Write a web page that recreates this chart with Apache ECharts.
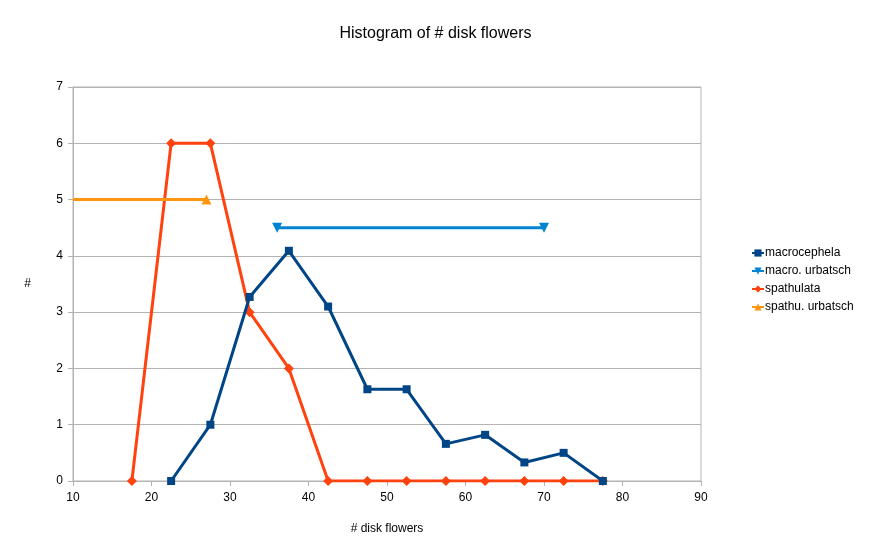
<!DOCTYPE html>
<html>
<head>
<meta charset="utf-8">
<script src="https://cdn.jsdelivr.net/npm/echarts@6/dist/echarts.min.js"></script>
<style>
html, body { margin: 0; padding: 0; background: #fff; }
#chart { width: 871px; height: 556px; }
</style>
</head>
<body>
<div id="chart"></div>
<script>
// histogram bins (bin centres) and counts
var binCentres = [17.5, 22.5, 27.5, 32.5, 37.5, 42.5, 47.5, 52.5, 57.5, 62.5, 67.5, 72.5, 77.5];
var macroCounts = [null, 0, 1, 3.27, 4.09, 3.1, 1.63, 1.63, 0.66, 0.82, 0.33, 0.5, 0];
var spathCounts = [0, 6, 6, 3, 2, 0, 0, 0, 0, 0, 0, 0, 0];
// urbatsch reference ranges
var macroUrbX = [70, 36];
var macroUrbY = 4.5;
var spathUrbX = [10, 27];
var spathUrbY = 5;

var seriesNames = ['macrocephela', 'macro. urbatsch', 'spathulata', 'spathu. urbatsch'];
var seriesColors = ['#004586', '#0084d1', '#ff420e', '#ff950e'];

function pairs(xs, ys) {
	var out = [];
	for (var i = 0; i < xs.length; i++) {
		if (ys[i] !== null) out.push([xs[i], ys[i]]);
	}
	return out;
}

var macroData = pairs(binCentres, macroCounts);
var spathData = pairs(binCentres, spathCounts);
var macroUrbData = [[macroUrbX[0], macroUrbY], [macroUrbX[1], macroUrbY]];
var spathUrbData = [{ value: [spathUrbX[0], spathUrbY], symbol: 'none' }, [spathUrbX[1], spathUrbY]];

var myChart = echarts.init(document.getElementById('chart'));
var font = 'Liberation Sans, Arial, sans-serif';

var option = {
	animation: false,
	color: seriesColors,
	textStyle: { fontFamily: font },
	title: {
		text: 'Histogram of # disk flowers',
		left: 'center',
		top: 21,
		textStyle: { fontSize: 16, fontWeight: 'normal', color: '#000', fontFamily: font }
	},
	legend: {
		orient: 'vertical',
		left: 746,
		top: 242,
		itemGap: 6,
		itemWidth: 12,
		itemHeight: 9,
		data: seriesNames,
		textStyle: { fontSize: 12, color: '#000', padding: [0, 0, 0, -4] }
	},
	grid: {
		left: 73, right: 170, top: 87, bottom: 75,
		show: true, borderColor: '#b3b3b3', borderWidth: 1
	},
	xAxis: {
		type: 'value',
		min: 10, max: 90, interval: 10,
		name: '# disk flowers',
		nameLocation: 'middle',
		nameGap: 42,
		nameTextStyle: { fontSize: 12, color: '#000' },
		axisLine: { show: true, lineStyle: { color: '#b3b3b3' } },
		axisTick: { show: true, length: 5, lineStyle: { color: '#b3b3b3' } },
		axisLabel: { fontSize: 12, color: '#000', margin: 11 },
		splitLine: { show: false }
	},
	yAxis: {
		type: 'value',
		min: 0, max: 7, interval: 1,
		name: '#',
		nameLocation: 'middle',
		nameGap: 42,
		nameRotate: 0,
		nameTextStyle: { fontSize: 12, color: '#000', padding: [18, 0, 0, 0] },
		axisLine: { show: true, lineStyle: { color: '#b3b3b3' } },
		axisTick: { show: true, length: 5, lineStyle: { color: '#b3b3b3' } },
		axisLabel: { fontSize: 12, color: '#000', margin: 10 },
		splitLine: { show: true, lineStyle: { color: '#b3b3b3' } }
	},
	series: [{
		name: seriesNames[0],
		type: 'line',
		data: macroData,
		symbol: 'rect',
		symbolSize: 8,
		lineStyle: { width: 3 },
		itemStyle: { color: seriesColors[0] },
		z: 3
	}, {
		name: seriesNames[1],
		type: 'line',
		data: macroUrbData,
		symbol: 'triangle',
		symbolRotate: 180,
		symbolSize: 10,
		lineStyle: { width: 3 },
		itemStyle: { color: seriesColors[1] },
		z: 2
	}, {
		name: seriesNames[2],
		type: 'line',
		data: spathData,
		symbol: 'diamond',
		symbolSize: 10,
		lineStyle: { width: 3 },
		itemStyle: { color: seriesColors[2] },
		z: 2
	}, {
		name: seriesNames[3],
		type: 'line',
		data: spathUrbData,
		symbol: 'triangle',
		symbolSize: 10,
		lineStyle: { width: 3 },
		itemStyle: { color: seriesColors[3] },
		z: 2
	}]
};

myChart.setOption(option);
</script>
</body>
</html>
